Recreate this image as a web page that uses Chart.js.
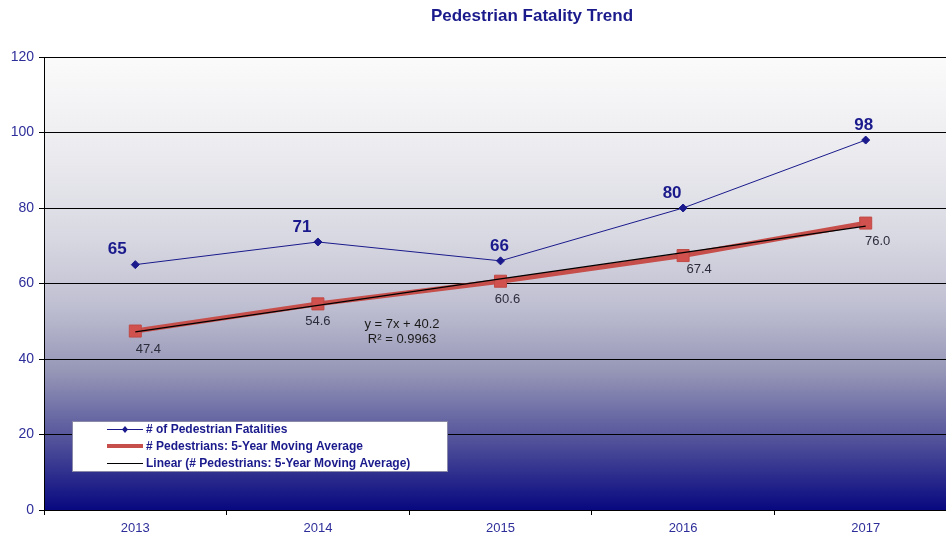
<!DOCTYPE html>
<html><head><meta charset="utf-8">
<script src="https://cdn.jsdelivr.net/npm/chart.js@4"></script>
<style>html,body{margin:0;padding:0;overflow:hidden;background:#fff;width:946px;height:537px}#wrap{width:975px;height:537px}</style>
</head><body><div id="wrap"><canvas id="c" width="975" height="537"></canvas></div>
<script>
const years = ['2013','2014','2015','2016','2017'];
const fatalities = [65, 71, 66, 80, 98];
const movingAvg = [47.4, 54.6, 60.6, 67.4, 76.0];
const trendLine = [47.2, 54.2, 61.2, 68.2, 75.2];
const yTicks = [0, 20, 40, 60, 80, 100, 120];
const seriesNames = ['# of Pedestrian Fatalities', '# Pedestrians: 5-Year Moving Average', 'Linear (# Pedestrians: 5-Year Moving Average)'];
const chartTitle = 'Pedestrian Fatality Trend';
const equationText = ['y = 7x + 40.2', 'R\u00B2 = 0.9963'];

const NAVY = '#1a1a8c';
const RED = '#c64f4b';
const FONT = '"Liberation Sans", Arial, sans-serif';

const bgPlugin = {
  id: 'bg',
  beforeDraw(chart) {
    const {ctx, chartArea: a} = chart;
    const g = ctx.createLinearGradient(0, a.top, 0, a.bottom);
    g.addColorStop(0, '#fbfbfb');
    g.addColorStop(0.2, '#ececf0');
    g.addColorStop(0.4, '#d8d8e2');
    g.addColorStop(0.55, '#bfbfd2');
    g.addColorStop(0.7, '#9494b6');
    g.addColorStop(0.85, '#50509a');
    g.addColorStop(1, '#080880');
    ctx.save();
    ctx.fillStyle = g;
    ctx.fillRect(a.left, a.top, a.right - a.left, a.bottom - a.top);
    ctx.restore();
  }
};

const labelPlugin = {
  id: 'labels',
  afterDatasetsDraw(chart) {
    const ctx = chart.ctx;
    ctx.save();
    ctx.font = 'bold 17px ' + FONT;
    ctx.fillStyle = NAVY;
    ctx.textAlign = 'center';
    ctx.textBaseline = 'middle';
    ctx.fillText(chartTitle, 532, 16);

    const m0 = chart.getDatasetMeta(0);
    const dx0 = [-18, -16, -1, -11, -2];
    ctx.font = 'bold 17px ' + FONT;
    m0.data.forEach((p, i) => {
      ctx.fillText(String(fatalities[i]), p.x + dx0[i], p.y - 15);
    });
    const m1 = chart.getDatasetMeta(2);
    const dx1 = [13, 0, 7, 16, 12];
    const dy1 = [18, 18, 18, 14, 18];
    ctx.font = '13px ' + FONT;
    ctx.fillStyle = '#2c2c3c';
    m1.data.forEach((p, i) => {
      ctx.fillText(movingAvg[i].toFixed(1), p.x + dx1[i], p.y + dy1[i]);
    });
    ctx.fillStyle = '#1a1a1a';
    ctx.fillText(equationText[0], 402, 324);
    ctx.fillText(equationText[1], 402, 339);

    // legend
    const lx = 72, ly = 421, lw = 375, lh = 50;
    ctx.fillStyle = '#fff';
    ctx.fillRect(lx, ly, lw, lh);
    ctx.strokeStyle = '#8a8aa8';
    ctx.lineWidth = 1;
    ctx.strokeRect(lx + 0.5, ly + 0.5, lw, lh);
    const rows = [429, 446, 463];
    ctx.strokeStyle = NAVY; ctx.lineWidth = 1;
    ctx.beginPath(); ctx.moveTo(107, rows[0] + 0.5); ctx.lineTo(143, rows[0] + 0.5); ctx.stroke();
    ctx.fillStyle = NAVY;
    ctx.beginPath(); ctx.moveTo(125, rows[0] - 3); ctx.lineTo(128, rows[0] + 0.5); ctx.lineTo(125, rows[0] + 4); ctx.lineTo(122, rows[0] + 0.5); ctx.closePath(); ctx.fill();
    ctx.strokeStyle = RED; ctx.lineWidth = 4;
    ctx.beginPath(); ctx.moveTo(107, rows[1]); ctx.lineTo(143, rows[1]); ctx.stroke();
    ctx.strokeStyle = '#000'; ctx.lineWidth = 1;
    ctx.beginPath(); ctx.moveTo(107, rows[2] + 0.5); ctx.lineTo(143, rows[2] + 0.5); ctx.stroke();
    ctx.font = 'bold 12px ' + FONT;
    ctx.fillStyle = NAVY;
    ctx.textAlign = 'left';
    seriesNames.forEach((n, i) => ctx.fillText(n, 146, rows[i] + 1));
    ctx.restore();
  }
};

new Chart(document.getElementById('c'), {
  type: 'line',
  data: {
    labels: years,
    datasets: [
      {
        label: seriesNames[0], data: fatalities, borderColor: NAVY, borderWidth: 1,
        pointStyle: 'rectRot', pointRadius: 4, pointBackgroundColor: NAVY, pointBorderColor: NAVY,
        tension: 0, order: 0
      },
      {
        label: seriesNames[2], data: trendLine, borderColor: '#000', borderWidth: 1.3,
        pointRadius: 0, tension: 0, order: 1
      },
      {
        label: seriesNames[1], data: movingAvg, borderColor: RED, borderWidth: 5,
        pointStyle: 'rect', pointRadius: 8.5, pointBackgroundColor: '#d0514d', pointBorderColor: '#c04a46', pointBorderWidth: 1,
        tension: 0, order: 2
      }
    ]
  },
  options: {
    responsive: false,
    animation: false,
    layout: { padding: { top: 57, right: 18, left: 0, bottom: 0 } },
    plugins: { legend: { display: false }, tooltip: { enabled: false }, title: { display: false } },
    scales: {
      x: {
        offset: true,
        afterFit(s) { s.height = 27; },
        grid: { display: true, drawOnChartArea: false, drawTicks: true, tickLength: 5, offset: true, color: '#000' },
        border: { display: true, color: '#000', width: 1 },
        ticks: { color: '#2e2e9a', font: { family: FONT, size: 13 }, padding: 6 }
      },
      y: {
        min: 0, max: 120,
        afterFit(s) { s.width = 44; },
        afterBuildTicks(s) { s.ticks = yTicks.map(v => ({ value: v })); },
        grid: { color: '#000', lineWidth: 1, tickLength: 5 },
        border: { display: true, color: '#000', width: 1 },
        ticks: { color: '#2e2e9a', font: { family: FONT, size: 14 }, padding: 5 }
      }
    }
  },
  plugins: [bgPlugin, labelPlugin]
});
</script>
</body></html>
